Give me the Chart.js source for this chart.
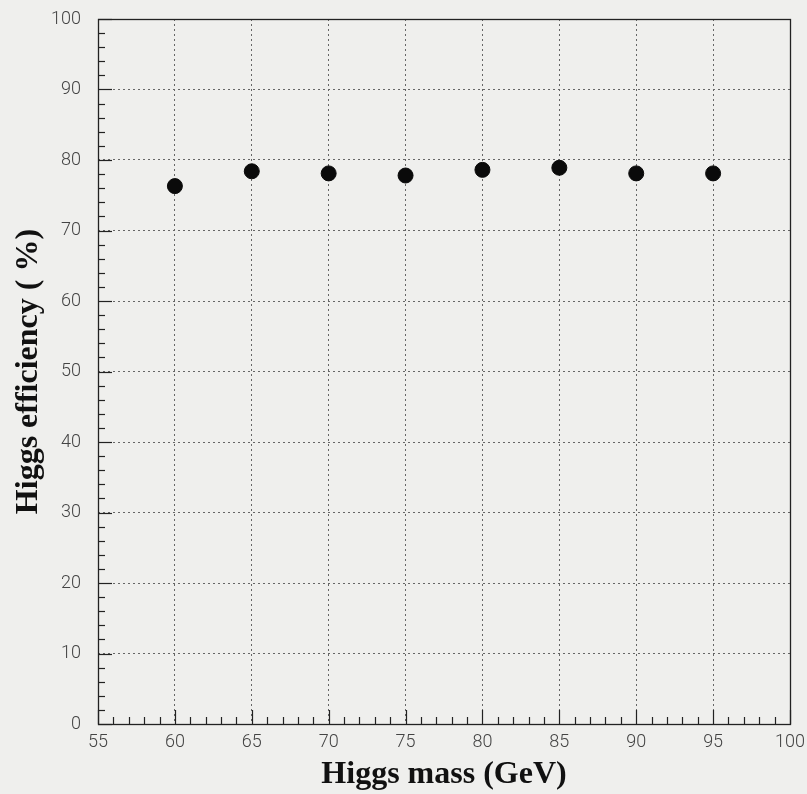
<!DOCTYPE html>
<html>
<head>
<meta charset="utf-8">
<script src="https://cdn.jsdelivr.net/npm/chart.js@4"></script>
<style>
html,body{margin:0;padding:0;background:#efefed;}
#wrap{width:807px;height:794px;position:relative;}
</style>
</head>
<body>
<div id="wrap"><canvas id="c" width="807" height="794"></canvas></div>
<script>
const masses = [60, 65, 70, 75, 80, 85, 90, 95];
const efficiency = [76.3, 78.4, 78.1, 77.8, 78.6, 78.9, 78.1, 78.1];
const xTickValues = [55, 60, 65, 70, 75, 80, 85, 90, 95, 100];
const yTickValues = [0, 10, 20, 30, 40, 50, 60, 70, 80, 90, 100];
const xTitle = 'Higgs mass (GeV)';
const yTitle = 'Higgs efficiency ( %)';

const frameAndTicks = {
  id: 'frameAndTicks',
  beforeDraw(chart) {
    const ctx = chart.ctx;
    ctx.save();
    ctx.fillStyle = '#efefed';
    ctx.fillRect(0, 0, chart.width, chart.height);
    ctx.restore();
  },
  beforeDatasetsDraw(chart) {
    const ctx = chart.ctx, a = chart.chartArea;
    const xs = chart.scales.x, ys = chart.scales.y;
    ctx.save();
    ctx.strokeStyle = '#222';
    ctx.lineWidth = 1.2;
    for (let v = 0; v <= 100; v += 2) {
      const y = Math.round(ys.getPixelForValue(v)) + 0.5;
      const len = (v % 10 === 0) ? 14 : 7;
      ctx.beginPath(); ctx.moveTo(a.left, y); ctx.lineTo(a.left + len, y); ctx.stroke();
    }
    for (let v = 55; v <= 100; v += 1) {
      const x = Math.round(xs.getPixelForValue(v)) + 0.5;
      const len = (v % 5 === 0) ? 14 : 7;
      ctx.beginPath(); ctx.moveTo(x, a.bottom); ctx.lineTo(x, a.bottom - len); ctx.stroke();
    }
    ctx.lineWidth = 1.3;
    ctx.strokeRect(a.left + 0.5, a.top + 0.5, a.right - a.left, a.bottom - a.top);
    ctx.restore();
  }
};

new Chart(document.getElementById('c'), {
  type: 'scatter',
  data: {
    datasets: [{
      data: masses.map((m, i) => ({ x: m, y: efficiency[i] })),
      backgroundColor: '#0a0a0a',
      borderColor: '#0a0a0a',
      pointRadius: 7.5,
      pointHoverRadius: 7.5
    }]
  },
  options: {
    responsive: false,
    animation: false,
    events: [],
    layout: { padding: { left: 10, right: 17, top: 19, bottom: 0 } },
    plugins: { legend: { display: false }, tooltip: { enabled: false } },
    scales: {
      x: {
        type: 'linear', min: 55, max: 100,
        afterBuildTicks: s => { s.ticks = xTickValues.map(v => ({ value: v })); },
        grid: { color: '#666', lineWidth: 1, drawTicks: false },
        border: { display: false, dash: [2, 3] },
        ticks: { color: '#444', padding: 8, maxRotation: 0, autoSkip: false,
                 font: { family: 'Roboto', weight: 300, size: 18 } },
        title: { display: true, text: xTitle, color: '#111', padding: { top: 6, bottom: 0 },
                 font: { family: 'Liberation Serif', weight: 'bold', size: 32 } },
        afterFit: s => { s.height = 70; s.paddingLeft = 0; s.paddingRight = 0; }
      },
      y: {
        type: 'linear', min: 0, max: 100,
        afterBuildTicks: s => { s.ticks = yTickValues.map(v => ({ value: v })); },
        grid: { color: '#666', lineWidth: 1, drawTicks: false },
        border: { display: false, dash: [2, 3] },
        ticks: { color: '#444', padding: 17, autoSkip: false,
                 font: { family: 'Roboto', weight: 300, size: 18 } },
        title: { display: true, text: yTitle, color: '#111', padding: { top: 0, bottom: 0 },
                 font: { family: 'Liberation Serif', weight: 'bold', size: 32 } },
        afterFit: s => { s.width = 88; s.paddingTop = 0; s.paddingBottom = 0; }
      }
    }
  },
  plugins: [frameAndTicks]
});
</script>
</body>
</html>
